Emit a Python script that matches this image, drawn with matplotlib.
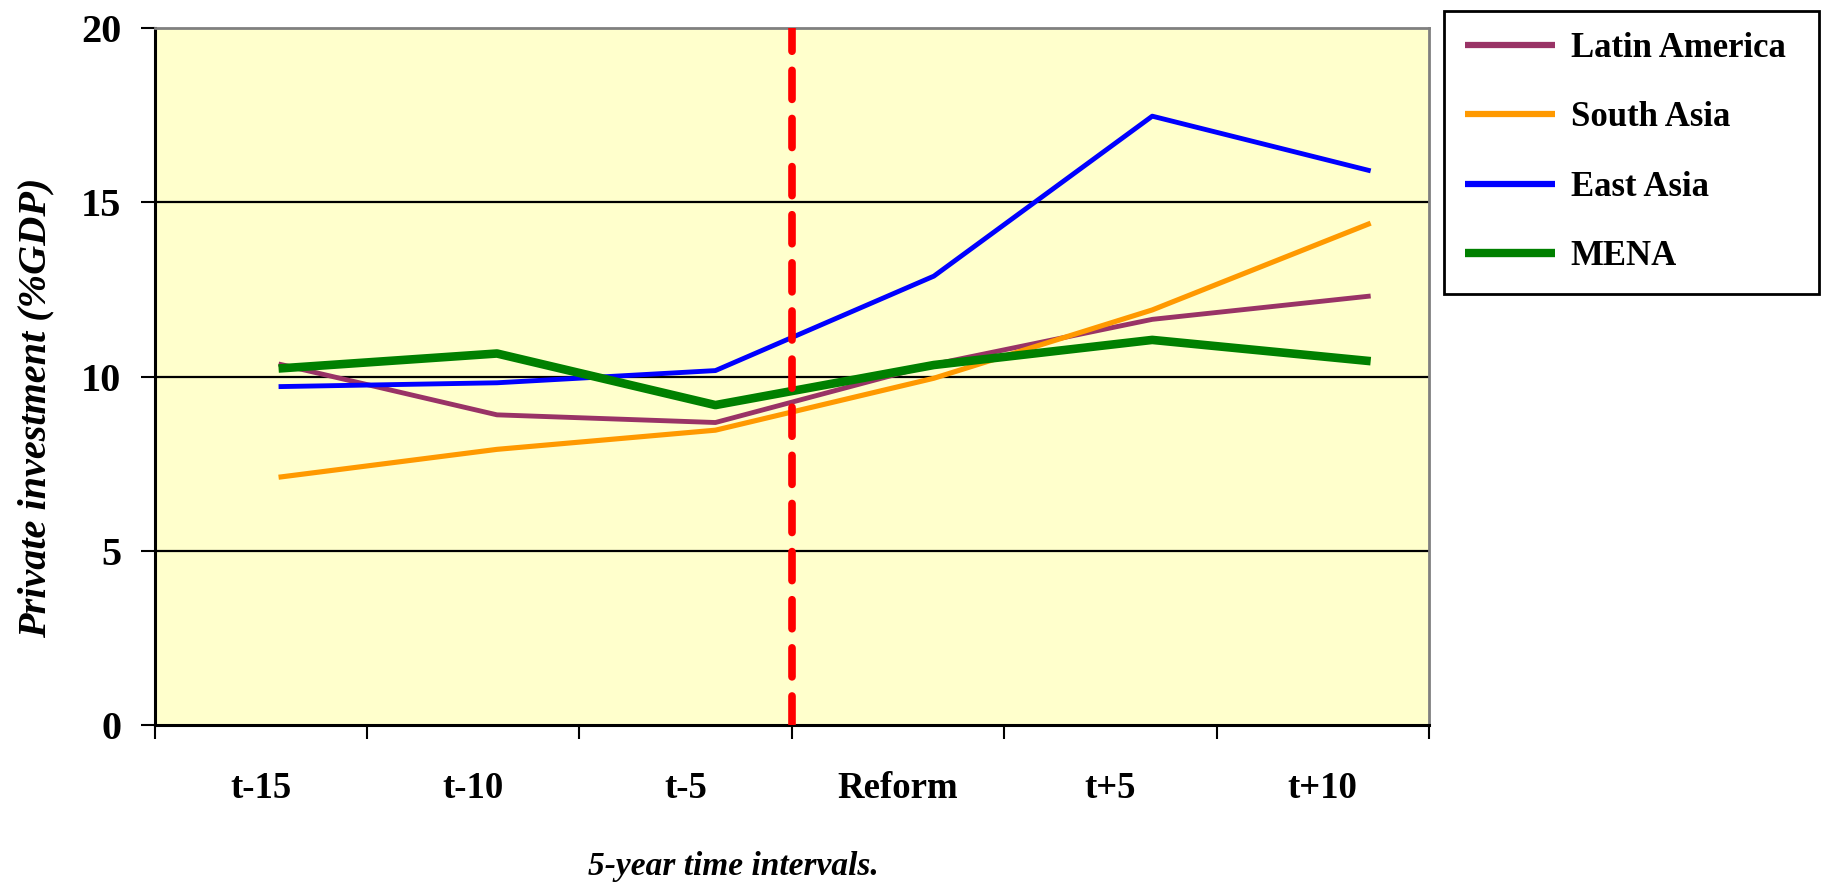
import numpy as np
import matplotlib
matplotlib.use("Agg")
import matplotlib.pyplot as plt

categories = ["t-15", "t-10", "t-5", "Reform", "t+5", "t+10"]
latin_america = [10.36, 8.90, 8.68, 10.35, 11.64, 12.31]
south_asia = [7.11, 7.91, 8.46, 9.95, 11.91, 14.40]
east_asia = [9.71, 9.82, 10.17, 12.88, 17.47, 15.90]
mena = [10.23, 10.66, 9.18, 10.33, 11.05, 10.44]
y_ticks = [0, 5, 10, 15, 20]

plt.rcParams['font.family'] = ['Liberation Serif', 'DejaVu Serif']

W, H = 1822, 883
fig = plt.figure(figsize=(W / 100, H / 100), dpi=100)
ax = fig.add_axes([0.0848, 0.1789, 0.6995, 0.7894])
ax.set_facecolor('#FFFFCC')

x = np.arange(len(categories))
xl, xr = -0.568, 5.267
bounds = np.linspace(xl, xr, len(categories) + 1)
centers = (bounds[:-1] + bounds[1:]) / 2

ax.set_xlim(xl, xr)
ax.set_ylim(0, 20)

for yv in y_ticks[1:-1]:
    ax.axhline(yv, color='black', lw=1.6, zorder=1)

l1, = ax.plot(x, latin_america, color='#993366', lw=3.5, zorder=3, solid_capstyle='butt')
l2, = ax.plot(x, south_asia, color='#FF9900', lw=3.7, zorder=3, solid_capstyle='butt')
l3, = ax.plot(x, east_asia, color='#0000FF', lw=3.5, zorder=3, solid_capstyle='butt')
l4, = ax.plot(x, mena, color='#008000', lw=6.2, zorder=3, solid_capstyle='butt')

ax.axvline(bounds[3], color='#FF0000', lw=5.5, linestyle=(0, (3.8, 2.5)),
           dash_capstyle='round', zorder=4)

ax.set_xticks(bounds)
ax.set_xticklabels([])
ax.set_xticks(centers, minor=True)
ax.set_xticklabels(categories, minor=True, fontsize=26.5, fontweight='bold')
ax.tick_params(axis='x', which='major', direction='out', length=10, width=1.5, color='black')
ax.tick_params(axis='x', which='minor', length=0, pad=33)

ax.set_yticks(y_ticks)
ax.set_yticklabels([str(v) for v in y_ticks], fontsize=29, fontweight='bold')
ax.tick_params(axis='y', direction='out', length=10, width=1.5, pad=14, color='black')

for s in ['left', 'bottom']:
    ax.spines[s].set_color('black')
    ax.spines[s].set_linewidth(2.2)
for s in ['top', 'right']:
    ax.spines[s].set_color('#808080')
    ax.spines[s].set_linewidth(2.0)

ax.set_xlabel('5-year time intervals.', fontsize=24, fontweight='bold', fontstyle='italic')
ax.xaxis.label.set_va('center')
ax.xaxis.set_label_coords(0.454, -0.2023)
ax.set_ylabel('Private investment (%GDP)', fontsize=29, fontweight='bold', fontstyle='italic')
ax.yaxis.label.set_va('center')
ax.yaxis.set_label_coords(-0.093, 0.455)

leg_left, leg_top, leg_right = 1444 / W, 1 - 11 / H, 1819 / W
leg = fig.legend([l1, l2, l3, l4], ['Latin America', 'South Asia', 'East Asia', 'MENA'],
                 loc='upper left',
                 bbox_to_anchor=(leg_left, leg_top - 0.3, leg_right - leg_left, 0.3),
                 mode='expand',
                 prop={'family': 'Liberation Serif', 'weight': 'bold', 'size': 25},
                 frameon=True, fancybox=False, edgecolor='black', framealpha=1,
                 handlelength=2.6, handletextpad=0.45, labelspacing=1.05,
                 borderpad=0.6, borderaxespad=0)
leg.get_frame().set_linewidth(2.0)
for h in leg.legend_handles:
    h.set_linewidth(4.5 if h.get_color() != '#008000' else 6.0)

fig.savefig('out.png', dpi=100)
